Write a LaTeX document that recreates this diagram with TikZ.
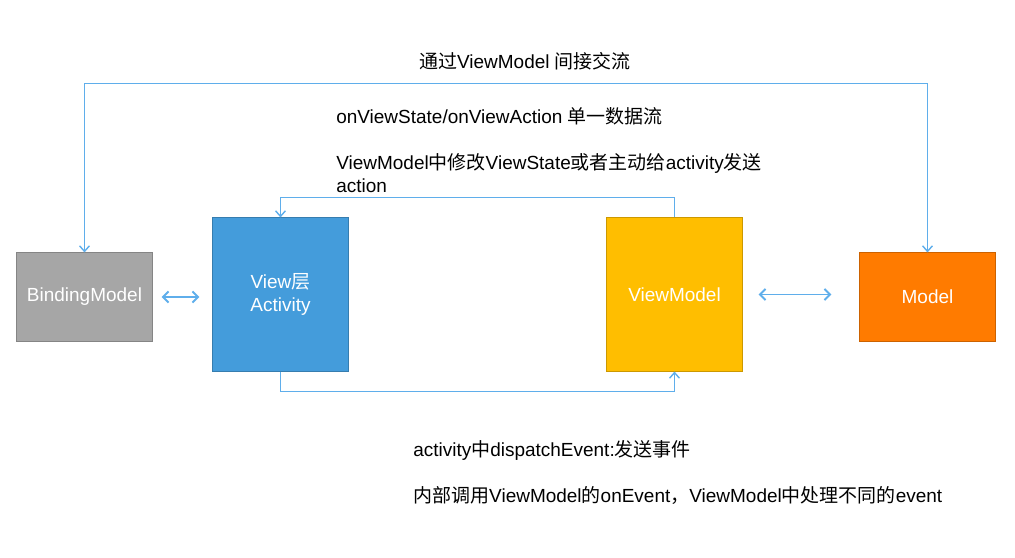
\documentclass[tikz,border=0pt]{standalone}
\usepackage{fontspec}
\setmainfont{Liberation Sans}
\newfontfamily\cjk{Noto Sans CJK SC}
\usetikzlibrary{arrows.meta,positioning,calc}
\definecolor{mgray}{HTML}{A6A6A6}
\definecolor{mblue}{HTML}{449CDB}
\definecolor{mamber}{HTML}{FFBE00}
\definecolor{morange}{HTML}{FF7B00}
\definecolor{mline}{HTML}{5FAEEB}
\tikzset{
  layer/.style={draw=#1!80!black,fill=#1,line width=0.7pt,text=white,align=center,font=\fontsize{13.5}{16.3}\selectfont,minimum width=3.375cm,inner sep=0pt},
  link/.style={draw=mline,line width=1pt,arrows={-Straight Barb[length=4pt,width=7pt]}},
  both/.style={link,line width=1.4pt,arrows={Straight Barb[length=4pt,width=8pt]-Straight Barb[length=4pt,width=8pt]}},
  note/.style={font=\fontsize{13.5}{16.3}\selectfont,align=left,inner sep=0pt,anchor=west},
}

\begin{document}
\begin{tikzpicture}[x=0.025cm,y=-0.025cm]
  \useasboundingbox (0,0) rectangle (1015,558);
  % layers
  \node[layer=mgray,minimum height=2.2cm] (bind) at (84.5,297) {BindingModel};
  \node[layer=mblue,minimum height=3.825cm] (view) at (280.5,294.5) {View{\cjk 层}\\Activity};
  \node[layer=mamber,minimum height=3.825cm] (vm) at (674.5,294.5) {ViewModel};
  \node[layer=morange,minimum height=2.2cm] (model) at (927.5,297) {Model};
  % labels
  \node[note,anchor=center] (ttop) at (525,61) {{\cjk 通过}ViewModel {\cjk 间接交流}};
  \node[note] (tflow) at (336,116) {onViewState/onViewAction {\cjk 单一数据流}};
  \node[note] (tstate) at (336,173.5) {ViewModel{\cjk 中修改}ViewState{\cjk 或者主动给}activity{\cjk 发送}\\action};
  \node[note] (tevt) at (413,450) {activity{\cjk 中}dispatchEvent:{\cjk 发送事件}};
  \node[note] (tcall) at (413,496) {{\cjk 内部调用}ViewModel{\cjk 的}onEvent{\cjk ，}ViewModel{\cjk 中处理不同的}event};
  % connectors
  \draw[link,arrows={Straight Barb[length=4pt,width=7pt]-Straight Barb[length=4pt,width=7pt]}] (bind.north) -- ++(0,-169) -| (model.north);
  \draw[link] (vm.north) -- ++(0,-20) -| (view.north);
  \draw[link] (view.south) -- ++(0,20) -| (vm.south);
  \draw[both,shorten <=0.225cm,shorten >=0.325cm] (bind.east) -- (bind.east -| view.west);
  \draw[both,shorten <=0.4cm,shorten >=0.7cm] (vm.east) -- (vm.east -| model.west);
\end{tikzpicture}
\end{document}
